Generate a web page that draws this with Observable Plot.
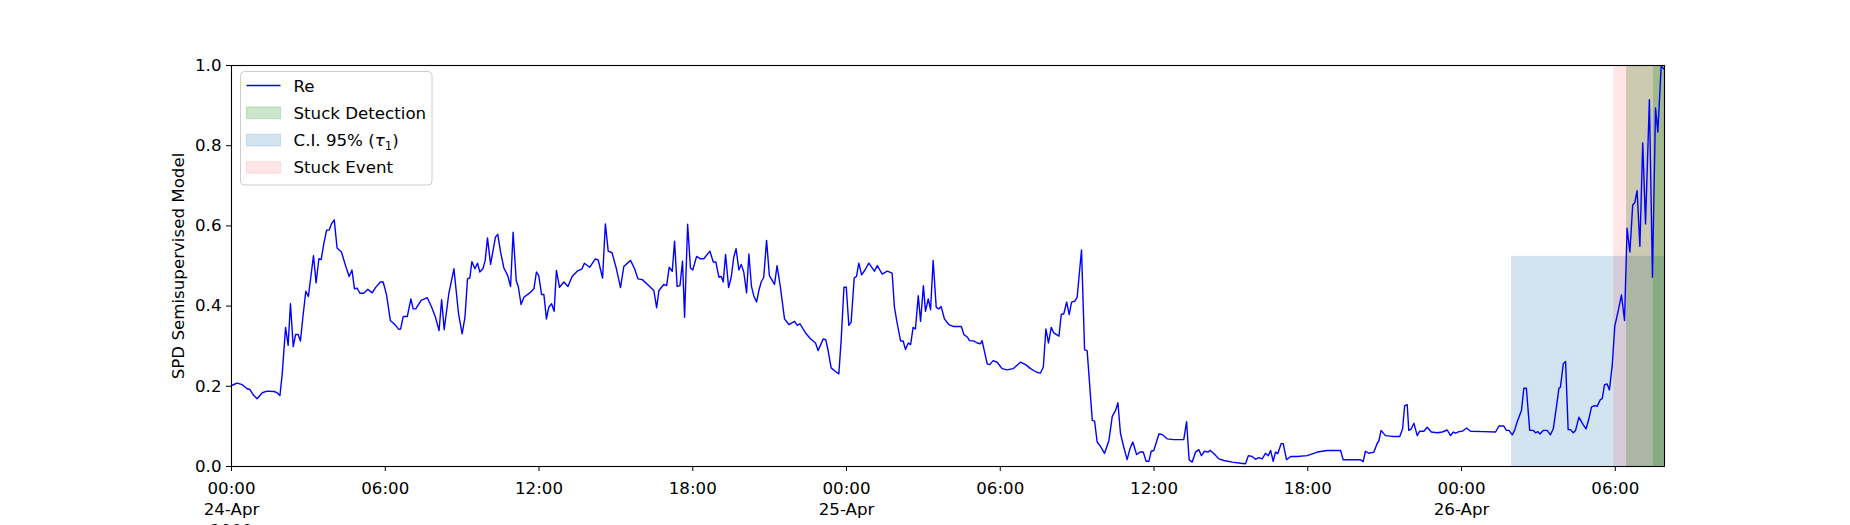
<!DOCTYPE html>
<html>
<head>
<meta charset="utf-8">
<script src="https://cdn.jsdelivr.net/npm/d3@7"></script>
<script src="https://cdn.jsdelivr.net/npm/@observablehq/plot@0.6"></script>
<style>
  html, body { margin: 0; padding: 0; background: #fff; }
  #chart svg { display: block; }
</style>
</head>
<body>
<div id="chart"></div>
<script>
// ---- data (hours since 1900-04-24 00:00, model output) ----
const hours = [
  0.00,0.22,0.42,0.61,0.72,0.87,1.00,1.20,1.39,1.65,1.78,1.89,1.98,2.11,2.21,2.30,2.41,2.50,2.60,2.69,
  2.80,2.90,3.00,3.11,3.20,3.30,3.41,3.50,3.60,3.71,3.81,3.90,4.01,4.12,4.29,4.45,4.59,4.70,4.80,4.90,
  5.01,5.16,5.32,5.49,5.62,5.81,5.92,6.05,6.20,6.40,6.53,6.60,6.70,6.86,7.00,7.09,7.19,7.40,7.64,7.80,
  7.96,8.10,8.20,8.30,8.48,8.68,8.86,9.00,9.11,9.21,9.30,9.38,9.50,9.60,9.69,9.81,9.90,9.99,10.11,10.30,
  10.39,10.50,10.63,10.78,10.89,10.99,11.11,11.19,11.30,11.41,11.60,11.80,11.90,11.99,12.10,12.19,12.29,12.38,12.49,12.59,
  12.68,12.80,12.97,13.13,13.29,13.49,13.68,13.77,13.98,14.20,14.31,14.48,14.59,14.70,14.85,15.02,15.18,15.31,15.57,15.73,
  15.86,16.03,16.29,16.48,16.59,16.68,16.87,16.98,17.08,17.20,17.29,17.39,17.50,17.60,17.68,17.80,17.91,18.00,18.15,18.30,
  18.43,18.67,18.80,18.90,19.02,19.11,19.19,19.28,19.40,19.50,19.60,19.69,19.80,19.89,19.99,20.10,20.19,20.29,20.38,20.49,
  20.58,20.67,20.77,20.88,20.99,21.19,21.29,21.42,21.58,21.75,21.97,22.08,22.18,22.40,22.60,22.79,22.89,23.09,23.19,23.27,
  23.40,23.57,23.70,23.79,23.90,23.99,24.09,24.18,24.30,24.39,24.48,24.59,24.72,24.87,25.09,25.20,25.39,25.59,25.78,25.87,
  25.98,26.11,26.21,26.30,26.41,26.50,26.60,26.69,26.80,26.89,27.00,27.08,27.19,27.28,27.38,27.50,27.60,27.69,27.82,27.99,
  28.19,28.48,28.58,28.71,28.80,28.97,29.10,29.23,29.29,29.49,29.59,29.72,29.88,30.07,30.27,30.50,30.79,30.99,31.18,31.42,
  31.57,31.68,31.78,31.88,31.99,32.09,32.29,32.38,32.48,32.59,32.69,32.78,32.90,33.00,33.17,33.29,33.39,33.59,33.68,33.78,
  33.91,34.07,34.24,34.37,34.50,34.59,34.69,34.82,34.95,35.06,35.17,35.32,35.45,35.58,35.69,35.80,35.89,35.99,36.19,36.32,
  36.51,36.77,37.16,37.27,37.37,37.49,37.62,37.75,37.85,37.97,38.10,38.20,38.34,38.53,38.73,39.05,39.38,39.57,39.68,39.83,
  39.96,40.09,40.22,40.35,40.46,40.55,40.65,40.74,40.83,40.96,41.04,41.17,41.33,41.59,41.98,42.37,42.76,43.28,43.38,43.67,
  44.06,44.16,44.25,44.38,44.58,44.71,44.77,44.86,45.03,45.29,45.59,45.70,45.78,45.88,45.94,46.04,46.14,46.27,46.37,46.53,
  46.66,46.82,47.05,47.25,47.44,47.57,47.68,47.77,47.90,48.03,48.20,48.35,48.87,49.33,49.46,49.65,49.75,49.85,49.98,50.07,
  50.17,50.34,50.43,50.53,50.66,50.80,50.89,50.98,51.06,51.19,51.34,51.47,51.58,51.71,51.80,51.86,51.97,52.06,52.16,52.25,
  52.36,52.45,52.58,52.75,52.86,52.97,53.07,53.19,53.29,53.42,53.49,53.58,53.68,53.77,53.88,53.98,54.11,54.24,54.36,54.46,
  54.57,54.68,54.76,54.85,54.96,55.07,55.18,55.33,55.45,55.57,55.66,55.79,55.92
];
const values = [
  0.202,0.208,0.204,0.194,0.192,0.177,0.169,0.184,0.188,0.187,0.184,0.177,0.231,0.347,0.302,0.406,0.299,0.329,0.329,0.313,
  0.381,0.437,0.424,0.480,0.526,0.458,0.518,0.516,0.555,0.589,0.590,0.605,0.615,0.545,0.535,0.501,0.474,0.490,0.443,0.445,
  0.432,0.432,0.442,0.433,0.446,0.460,0.460,0.428,0.364,0.352,0.342,0.343,0.374,0.374,0.418,0.393,0.393,0.414,0.421,0.399,
  0.372,0.339,0.416,0.341,0.431,0.493,0.381,0.331,0.372,0.468,0.470,0.511,0.493,0.507,0.485,0.493,0.514,0.570,0.504,0.572,
  0.579,0.535,0.495,0.476,0.449,0.584,0.464,0.449,0.404,0.422,0.431,0.443,0.485,0.476,0.429,0.429,0.368,0.397,0.406,0.387,
  0.489,0.447,0.460,0.449,0.474,0.487,0.493,0.507,0.497,0.518,0.515,0.470,0.605,0.537,0.533,0.493,0.446,0.499,0.514,0.493,
  0.468,0.466,0.451,0.439,0.396,0.439,0.454,0.451,0.497,0.487,0.562,0.449,0.451,0.512,0.372,0.604,0.495,0.490,0.524,0.518,
  0.518,0.537,0.510,0.510,0.472,0.474,0.460,0.529,0.446,0.472,0.522,0.543,0.490,0.504,0.485,0.433,0.530,0.449,0.426,0.410,
  0.439,0.460,0.472,0.564,0.476,0.454,0.501,0.447,0.368,0.354,0.362,0.352,0.356,0.333,0.318,0.308,0.289,0.318,0.316,0.293,
  0.246,0.237,0.231,0.314,0.447,0.447,0.352,0.360,0.470,0.474,0.507,0.478,0.490,0.507,0.487,0.501,0.480,0.487,0.482,0.397,
  0.356,0.313,0.313,0.292,0.308,0.304,0.347,0.343,0.426,0.362,0.451,0.387,0.418,0.391,0.514,0.397,0.393,0.399,0.368,0.354,
  0.349,0.349,0.329,0.323,0.314,0.313,0.308,0.306,0.314,0.256,0.254,0.264,0.260,0.244,0.241,0.244,0.260,0.254,0.244,0.235,
  0.233,0.248,0.343,0.308,0.347,0.333,0.325,0.379,0.381,0.410,0.379,0.410,0.412,0.422,0.540,0.291,0.289,0.115,0.113,0.061,
  0.050,0.033,0.065,0.125,0.140,0.159,0.083,0.048,0.017,0.044,0.061,0.030,0.036,0.036,0.013,0.013,0.038,0.040,0.081,0.080,
  0.069,0.067,0.067,0.112,0.017,0.011,0.036,0.042,0.027,0.038,0.036,0.040,0.032,0.019,0.015,0.011,0.008,0.007,0.027,0.025,
  0.018,0.022,0.019,0.033,0.027,0.040,0.013,0.036,0.032,0.057,0.057,0.017,0.025,0.025,0.027,0.036,0.040,0.040,0.017,0.017,
  0.017,0.012,0.038,0.033,0.036,0.058,0.063,0.090,0.077,0.075,0.075,0.094,0.152,0.154,0.090,0.094,0.108,0.077,0.088,0.088,
  0.098,0.086,0.084,0.086,0.091,0.077,0.086,0.083,0.087,0.088,0.096,0.088,0.087,0.086,0.101,0.101,0.090,0.090,0.079,0.090,
  0.111,0.140,0.195,0.195,0.090,0.090,0.084,0.087,0.081,0.090,0.090,0.079,0.094,0.152,0.195,0.198,0.256,0.262,0.092,0.092,
  0.084,0.090,0.123,0.104,0.094,0.119,0.148,0.152,0.150,0.167,0.169,0.204,0.206,0.191,0.252,0.350,0.387,0.428,0.364,0.594,
  0.535,0.653,0.658,0.688,0.549,0.807,0.605,0.915,0.472,0.894,0.834,0.998,0.990
];

// shaded spans (hours)
const spanKinds      = ["ci", "event", "event", "detect", "detect"];
const spanStartHours = [49.95, 53.94, 54.44, 54.44, 55.49];
const spanEndHours   = [55.92, 55.92, 55.92, 55.92, 55.92];
const spanTops       = [0.524, 1, 1, 1, 1];
const spanOpacities  = [0.2, 0.1, 0.04, 0.2, 0.2];

// axis ticks
const xTickHours  = [0, 6, 12, 18, 24, 30, 36, 42, 48, 54];
const xTickLabels = ["00:00\n24-Apr\n1900", "06:00", "12:00", "18:00", "00:00\n25-Apr",
                     "06:00", "12:00", "18:00", "00:00\n26-Apr", "06:00"];
const yTicks = [0, 0.2, 0.4, 0.6, 0.8, 1.0];
const yTickLabels = ["0.0", "0.2", "0.4", "0.6", "0.8", "1.0"];
const xDomainHours = [0, 55.92];

const legendLabels = ["Re", "Stuck Detection", "C.I. 95% (τ1)", "Stuck Event"];

// ---- build ----
const base = Date.UTC(1900, 3, 24, 0, 0, 0);
const toDate = h => new Date(base + h * 3600e3);
const series = hours.map((h, i) => ({t: toDate(h), v: values[i]}));
const spanColor = {ci: "#1f77b4", event: "red", detect: "green"};
const spans = spanKinds.map((k, i) => ({
  kind: k, x1: toDate(spanStartHours[i]), x2: toDate(spanEndHours[i]), y2: spanTops[i], op: spanOpacities[i]
}));
const xTickDates = xTickHours.map(toDate);
const xLabelMap = new Map(xTickDates.map((d, i) => [+d, xTickLabels[i]]));
const yLabelMap = new Map(yTicks.map((d, i) => [d, yTickLabels[i]]));

const FS = 16.67;

function legendMark(index, scales, values, dims) {
  const g = d3.create("svg:g").attr("font-family", "DejaVu Sans").attr("font-size", FS)
    .attr("text-anchor", "start");
  const x0 = dims.marginLeft + 9.5, y0 = dims.marginTop + 6.5;
  g.append("rect").attr("x", x0).attr("y", y0).attr("width", 191.5).attr("height", 113.5)
    .attr("rx", 4).attr("fill", "white").attr("fill-opacity", 0.8)
    .attr("stroke", "#cccccc").attr("stroke-width", 1);
  const rowY = i => y0 + 14 + i * 27.3;
  const hx = x0 + 6, hw = 34, tx = x0 + 53;
  const swatches = [null, {c: spanColor.detect, o: 0.2}, {c: spanColor.ci, o: 0.2}, {c: spanColor.event, o: 0.1}];
  legendLabels.forEach((lab, i) => {
    const cy = rowY(i);
    if (i === 0) {
      g.append("line").attr("x1", hx).attr("x2", hx + hw).attr("y1", cy).attr("y2", cy)
        .attr("stroke", "blue").attr("stroke-width", 1.4);
    } else {
      const s = swatches[i];
      g.append("rect").attr("x", hx).attr("y", cy - 5.8).attr("width", hw).attr("height", 11.7)
        .attr("fill", s.c).attr("fill-opacity", s.o)
        .attr("stroke", s.c).attr("stroke-opacity", s.o);
    }
    const t = g.append("text").attr("x", tx).attr("y", cy).attr("dy", "0.36em").attr("fill", "black")
      .attr("text-anchor", "start");
    const k = lab.indexOf("τ");
    if (k >= 0) {
      t.append("tspan").text(lab.slice(0, k));
      t.append("tspan").attr("font-style", "italic").text("τ");
      t.append("tspan").attr("font-size", FS * 0.7).attr("dy", 4).text(lab.slice(k + 1, k + 2));
      t.append("tspan").attr("dy", -4).text(lab.slice(k + 2));
    } else {
      t.text(lab);
    }
  });
  return g.node();
}

const chart = Plot.plot({
  width: 1850,
  height: 525,
  marginLeft: 231,
  marginRight: 186,
  marginTop: 65,
  marginBottom: 59,
  style: {fontFamily: "DejaVu Sans", fontSize: FS + "px", color: "black", background: "white"},
  x: {type: "utc", domain: xDomainHours.map(toDate)},
  y: {domain: [0, 1]},
  marks: [
    ...spans.map(s =>
      Plot.rect([s], {x1: "x1", x2: "x2", y1: () => 0, y2: "y2", fill: spanColor[s.kind], fillOpacity: s.op})
    ),
    Plot.line(series, {x: "t", y: "v", stroke: "blue", strokeWidth: 1.4}),
    Plot.frame({stroke: "black", strokeWidth: 1.1}),
    Plot.axisX({ticks: xTickDates, tickFormat: d => xLabelMap.get(+d), tickSize: 5, tickPadding: 8,
                lineHeight: 1.26, fontSize: FS, label: null, stroke: "black"}),
    Plot.axisY({ticks: yTicks, tickFormat: d => yLabelMap.get(d), tickSize: 5, tickPadding: 5,
                fontSize: FS, label: null, stroke: "black"}),
    Plot.text(["SPD Semisupervised Model"], {frameAnchor: "left", dx: -53, rotate: -90,
                textAnchor: "middle", lineAnchor: "middle", fontSize: FS, fill: "black"}),
    legendMark
  ]
});
document.getElementById("chart").appendChild(chart);
</script>
</body>
</html>
